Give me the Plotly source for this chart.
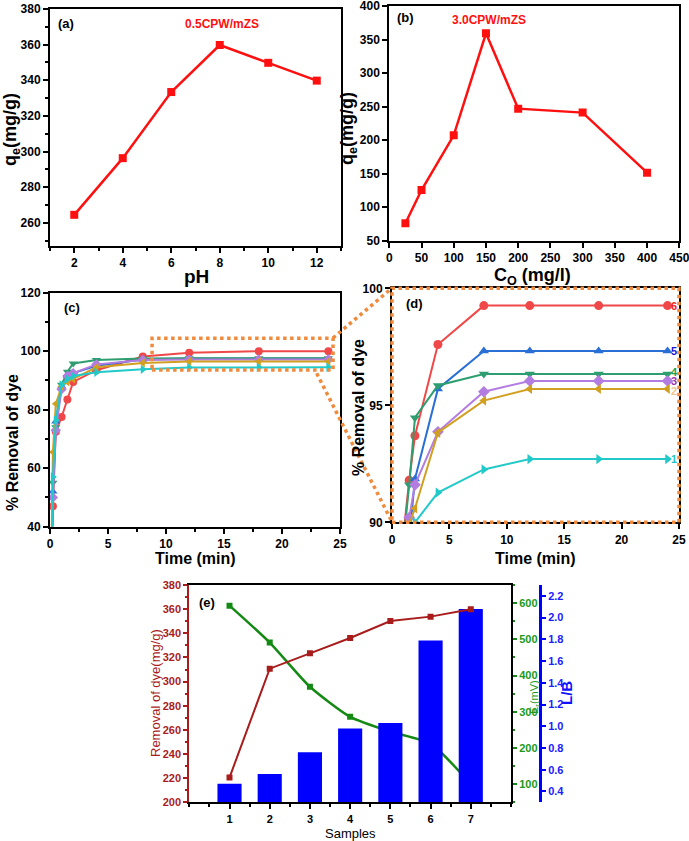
import plotly.graph_objects as go

W, H = 689, 841

# ---------------- data ----------------
ph = [2, 4, 6, 8, 10, 12]
qe_ph = [264.5, 296.3, 333.4, 359.8, 349.8, 339.8]

co = [25, 50, 100, 150, 200, 300, 400]
qe_co = [76, 125.6, 207.2, 359.3, 246.9, 241, 151.4]

time_c = [0, 0.25, 0.5, 1, 1.5, 2, 4, 8, 12, 18, 24]
c_s6 = [0, 47, 72.5, 77.5, 83.5, 89.5, 93.5, 98.2, 99.5, 100, 100]
c_s5 = [0, 52, 76, 88, 91.5, 92.5, 95, 97.2, 97.5, 97.5, 97.5]
c_s4 = [0, 55, 74, 88.5, 93, 95.8, 97, 97.5, 97.6, 97.6, 97.6]
c_s3 = [0, 50, 73, 87, 91.5, 92.5, 95.5, 97, 97.2, 97.2, 97.2]
c_s2 = [0, 65.5, 82, 88, 89.5, 90.5, 94.5, 96, 96.5, 96.5, 96.5]
c_s1 = [0, 57, 76.5, 88.5, 90.5, 91.5, 92.8, 93.8, 94.4, 94.5, 94.5]

time_d = [1, 1.5, 2, 4, 8, 12, 18, 24]
d_s6 = [89.5, 91.8, 93.7, 97.6, 99.26, 99.26, 99.26, 99.26]
d_s5 = [85, 89.3, 91.85, 95.7, 97.32, 97.32, 97.32, 97.32]
d_s4 = [89.2, 91.6, 94.47, 95.85, 96.34, 96.34, 96.34, 96.34]
d_s3 = [87, 90.2, 91.6, 93.87, 95.58, 96.04, 96.04, 96.04]
d_s2 = [86, 89.9, 90.6, 93.83, 95.2, 95.7, 95.7, 95.7]
d_s1 = [85, 88, 90.0, 91.27, 92.26, 92.7, 92.7, 92.7]
series_labels = ["6", "5", "4", "3", "2", "1"]

samples = [1, 2, 3, 4, 5, 6, 7]
removal = [220.5, 310.7, 323.4, 336.1, 350.2, 353.8, 359.9]
e_mv = [593, 491, 369, 286, 245, 212, 100]
lb_ratio = [0.47, 0.56, 0.76, 0.98, 1.03, 1.79, 2.08]

# ---------------- styles ----------------
FONT = "Liberation Sans"
RED = "#ff1010"
ORANGE = "#f08a3c"
ser_colors = ["#f04848", "#2a6fd6", "#2e9e70", "#b27ce0", "#d1a021", "#22c9c9"]
lab_colors = ["#ee2222", "#1515dd", "#22a045", "#9a35b0", "#f0c58a", "#22c4c4"]
lab_shift = [0, 0, 2, 0, -2, 0]
ser_symbols = ["circle", "triangle-up", "triangle-down", "diamond", "triangle-left", "triangle-right"]


def pxx(x):
    return x / W


def pyy(y):
    return 1 - y / H


def axstyle(**kw):
    d = dict(showline=True, linecolor="black", linewidth=2, mirror=True, automargin=False,
             ticks="outside", ticklen=5, tickwidth=1.5, tickcolor="black",
             ticklabeloverflow="allow",
             tickfont=dict(family=FONT, size=12, color="black", weight="bold"),
             showgrid=False, zeroline=False)
    d.update(kw)
    return d


fig = go.Figure()

# (a)
fig.add_trace(go.Scatter(x=ph, y=qe_ph, mode="lines+markers", xaxis="x", yaxis="y",
                         line=dict(color=RED, width=2.5),
                         marker=dict(symbol="square", size=8, color=RED), showlegend=False))
# (b)
fig.add_trace(go.Scatter(x=co, y=qe_co, mode="lines+markers", xaxis="x2", yaxis="y2",
                         line=dict(color=RED, width=2.5),
                         marker=dict(symbol="square", size=8, color=RED), showlegend=False))
# (c)
for ys, col, sym in zip([c_s6, c_s5, c_s4, c_s3, c_s2, c_s1], ser_colors, ser_symbols):
    fig.add_trace(go.Scatter(x=time_c, y=ys, mode="lines+markers", xaxis="x3", yaxis="y3",
                             line=dict(color=col, width=2),
                             marker=dict(symbol=sym, size=8, color=col), showlegend=False))
# (d)
for ys, col, sym in zip([d_s6, d_s5, d_s4, d_s3, d_s2, d_s1], ser_colors, ser_symbols):
    fig.add_trace(go.Scatter(x=time_d, y=ys, mode="lines+markers", xaxis="x4", yaxis="y4",
                             line=dict(color=col, width=2),
                             marker=dict(symbol=sym, size=9, color=col), showlegend=False))
# (e) green E line (base axis, drawn first)
fig.add_trace(go.Scatter(x=samples, y=e_mv, mode="lines+markers", xaxis="x5", yaxis="y5",
                         line=dict(color="#148a14", width=2.5, shape="spline", smoothing=0.6),
                         marker=dict(symbol="square", size=6, color="#148a14"), showlegend=False))
# (e) bars L/B
fig.add_trace(go.Bar(x=samples, y=lb_ratio, xaxis="x5", yaxis="y6", width=0.6,
                     marker=dict(color="#0000ff", line=dict(width=0)), showlegend=False))
# (e) red removal line
fig.add_trace(go.Scatter(x=samples, y=removal, mode="lines+markers", xaxis="x5", yaxis="y7",
                         line=dict(color="#a81c1c", width=2),
                         marker=dict(symbol="square", size=6, color="#a81c1c"), showlegend=False))

layout = dict(
    width=W, height=H, margin=dict(l=0, r=0, t=0, b=0, autoexpand=False),
    paper_bgcolor="white", plot_bgcolor="rgba(0,0,0,0)", showlegend=False,
    xaxis=axstyle(domain=[pxx(50), pxx(341)], range=[1, 13], dtick=2, tick0=2, anchor="y",
                  minor=dict(ticks="outside", ticklen=3, dtick=1, tick0=1, tickcolor="black")),
    yaxis=axstyle(domain=[pyy(246), pyy(9)], range=[247, 380], dtick=20, tick0=260, anchor="x",
                  minor=dict(ticks="outside", ticklen=3, dtick=10, tickcolor="black")),
    xaxis2=axstyle(domain=[pxx(389.3), pxx(679.3)], range=[0, 450], dtick=50, anchor="y2"),
    yaxis2=axstyle(domain=[pyy(240.7), pyy(6)], range=[50, 400], dtick=50, anchor="x2"),
    xaxis3=axstyle(domain=[pxx(50), pxx(340)], range=[0, 25], dtick=5, anchor="y3",
                   minor=dict(ticks="outside", ticklen=3, dtick=2.5, tickcolor="black")),
    yaxis3=axstyle(domain=[pyy(526.7), pyy(292.7)], range=[40, 120], dtick=20, anchor="x3",
                   minor=dict(ticks="outside", ticklen=3, dtick=10, tickcolor="black")),
    xaxis4=axstyle(domain=[pxx(392), pxx(679)], range=[0, 25], dtick=5, anchor="y4"),
    yaxis4=axstyle(domain=[pyy(522.3), pyy(288.3)], range=[90, 100], dtick=5, anchor="x4"),
    xaxis5=axstyle(domain=[pxx(189.3), pxx(511)], range=[0, 8], tickvals=samples, anchor="y5",
                   tickfont=dict(family=FONT, size=11, color="black", weight="bold"),
                   minor=dict(ticks="outside", ticklen=3, dtick=0.5, tickcolor="black")),
    yaxis5=dict(domain=[pyy(802.3), pyy(585)], range=[50, 650], anchor="x5", side="right",
                automargin=False, ticklabeloverflow="allow",
                tickvals=[100, 200, 300, 400, 500, 600], showline=True, linecolor="black",
                linewidth=2, ticks="outside", ticklen=4, tickcolor="#148a14", tickwidth=1.5,
                tickfont=dict(family=FONT, size=11, color="#1a9a1a", weight="bold"),
                minor=dict(ticks="outside", ticklen=2, dtick=50, tickcolor="#148a14"),
                showgrid=False, zeroline=False),
    yaxis6=dict(domain=[pyy(802.3), pyy(585)], range=[0.3, 2.3], overlaying="y5", side="right",
                automargin=False, ticklabeloverflow="allow",
                anchor="free", position=pxx(540), tick0=0.4, dtick=0.2, tickformat=".1f",
                showline=True,
                linecolor="#0000ff", linewidth=3, ticks="outside", ticklen=4, tickwidth=1.5,
                tickcolor="#0000ff",
                tickfont=dict(family=FONT, size=11, color="#2020ff", weight="bold"),
                showgrid=False, zeroline=False),
    yaxis7=dict(domain=[pyy(802.3), pyy(585)], range=[200, 380], overlaying="y5", side="left",
                automargin=False, ticklabeloverflow="allow",
                anchor="x5", dtick=20, showline=True, linecolor="#a81c1c", linewidth=2,
                ticks="outside", ticklen=4, tickwidth=1.5, tickcolor="#a81c1c",
                tickfont=dict(family=FONT, size=11, color="#a81c1c", weight="bold"),
                minor=dict(ticks="outside", ticklen=2, dtick=10, tickcolor="#a81c1c"),
                showgrid=False, zeroline=False),
)
fig.update_layout(**layout)

ann = []


def txt(x, y, s, size, color="black", angle=0, xanchor="center", bold=True):
    ann.append(dict(x=pxx(x), y=pyy(y), xref="paper", yref="paper", text=(f"<b>{s}</b>" if bold else s),
                    showarrow=False, textangle=angle, xanchor=xanchor, yanchor="middle",
                    font=dict(family=FONT, size=size, color=color)))


# panel texts
txt(56, 24, "(a)", 13, xanchor="left")
txt(222, 24, "0.5CPW/mZS", 12, color=RED)
txt(12, 130, "q<sub>e</sub>(mg/g)", 18, angle=-90)
txt(197, 277, "pH", 19)
txt(395, 18, "(b)", 13, xanchor="left")
txt(489, 20, "3.0CPW/mZS", 12, color=RED)
txt(349, 128, "q<sub>e</sub>(mg/g)", 18, angle=-90)
txt(532, 277, "C<sub>O</sub> (mg/l)", 18)
txt(62, 307, "(c)", 13, xanchor="left")
txt(12, 443, "% Removal of dye", 16, angle=-90)
txt(195, 558, "Time (min)", 16)
txt(404, 303, "(d)", 13, xanchor="left")
txt(359, 408, "% Removal of dye", 16, angle=-90)
txt(535, 558, "Time (min)", 16)
txt(197, 602, "(e)", 13, xanchor="left")
txt(155, 693, "Removal of dye(mg/g)", 13, color="#a81c1c", angle=-90, bold=False)
txt(535, 697, "E<sub>r</sub>(mV)", 11, color="#1a9a1a", angle=-90, bold=False)
txt(566, 693, "L/B", 15, color="#1010ff", angle=-90)
txt(350, 833, "Samples", 13, bold=False)

# series numbers in (d)
for ys, lab, col, sh in zip([d_s6, d_s5, d_s4, d_s3, d_s2, d_s1], series_labels, lab_colors, lab_shift):
    ann.append(dict(x=pxx(669), y=ys[-1], xref="paper", yref="y4", text=f"<b>{lab}</b>", showarrow=False,
                    xanchor="left", yanchor="middle", yshift=sh,
                    font=dict(family=FONT, size=11, color=col)))

fig.update_layout(annotations=ann)

dot = dict(color=ORANGE, width=3.5, dash="dot")
shapes = [
    dict(type="rect", xref="x3", yref="y3", x0=8.8, x1=24.4, y0=93.6, y1=104.4, line=dot),
    dict(type="rect", xref="x4 domain", yref="y4 domain", x0=0, x1=1, y0=0, y1=1, line=dot),
    dict(type="line", xref="paper", yref="paper", x0=pxx(333), y0=pyy(338), x1=pxx(392), y1=pyy(288), line=dot),
    dict(type="line", xref="paper", yref="paper", x0=pxx(316.7), y0=pyy(373.3), x1=pxx(392), y1=pyy(522), line=dot),
]
fig.update_layout(shapes=shapes)

fig.write_html("out.html", config={"displayModeBar": False},
               post_script="document.body.style.margin='0px';document.body.style.overflow='hidden';")
